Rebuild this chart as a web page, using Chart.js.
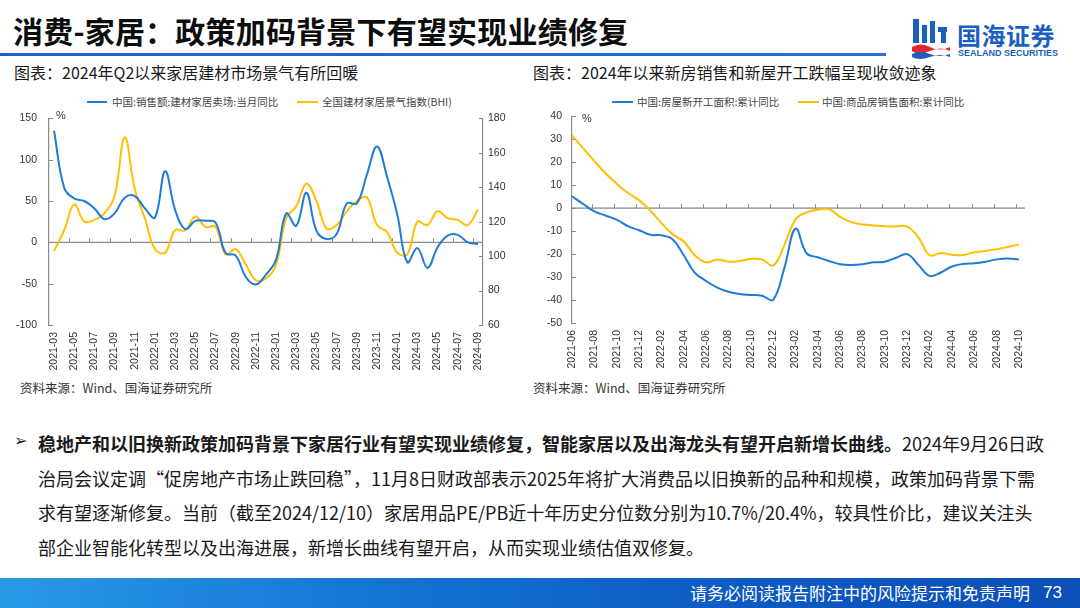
<!DOCTYPE html>
<html>
<head>
<meta charset="utf-8">
<script src="https://cdn.jsdelivr.net/npm/chart.js@4"></script>
<style>
  body { margin: 0; width: 1080px; height: 608px; position: relative; overflow: hidden; background: #fff;
         font-family: 'Noto Sans CJK SC', 'Noto Sans', sans-serif; color: #111; }
  .abs { position: absolute; white-space: nowrap; }
  .title { left: 13px; top: 12px; font-size: 30px; font-weight: 700; line-height: 36px; color: #0d0d0d; letter-spacing: 0.2px; }
  .rule { left: 0; top: 53px; width: 886px; height: 3px; background: linear-gradient(90deg, #1c63c9, #2670d8); }
  .ctitle { font-size: 16px; line-height: 22px; color: #1a1a1a; top: 61px; }
  .legend { font-size: 10.5px; line-height: 14px; color: #444; top: 95px; }
  .legline { position: absolute; height: 2px; top: 101px; }
  .pct { font-family: 'Liberation Sans', Arial, sans-serif; font-size: 11px; color: #333; }
  .source { font-size: 12.5px; line-height: 16px; color: #333; top: 380px; }
  .body { left: 38px; top: 426px; font-size: 18px; line-height: 34.7px; color: #1a1a1a; }
  .arrow { left: 14px; top: 431px; font-family: 'DejaVu Sans', sans-serif; font-size: 16px; font-weight: 700; color: #222; }
  .footer { left: 0; top: 578px; width: 1080px; height: 30px; background: linear-gradient(90deg, #2a9ae6 0%, #1474d4 35%, #0d59c2 70%, #0b4fb7 100%); }
  .foottext { top: 582px; font-size: 17px; line-height: 22px; color: #fff; }
  canvas { position: absolute; }
</style>
</head>
<body>
<div class="abs title">消费-家居：政策加码背景下有望实现业绩修复</div>
<div class="abs rule"></div>

<svg class="abs" style="left:910px; top:17px" width="42" height="42" viewBox="0 0 42 42">
  <rect x="3" y="2" width="6" height="24" fill="#1d5fc0"/>
  <rect x="12" y="8" width="5" height="18" fill="#1d5fc0"/>
  <rect x="20" y="4" width="5" height="22" fill="#1d5fc0"/>
  <rect x="28" y="10" width="9" height="5" fill="#1d5fc0"/>
  <rect x="31" y="10" width="5" height="16" fill="#1d5fc0"/>
  <path d="M2 30 Q11 25 20 30 T40 30 L40 34 Q31 29 20 34 T2 34 Z" fill="#e3262e"/>
  <path d="M2 37 Q11 33 20 37 T40 37 L40 40 Q31 36 20 40 T2 40 Z" fill="#1d5fc0"/>
</svg>
<div class="abs" style="left:957px; top:20px; font-size:24px; font-weight:700; line-height:30px; color:#1d5fc0; letter-spacing:0.5px">国海证券</div>
<div class="abs" style="left:958px; top:48px; font-family:'Liberation Sans Narrow','Liberation Sans',Arial,sans-serif; font-size:9px; font-weight:700; line-height:11px; color:#1d5fc0">SEALAND SECURITIES</div>

<div class="abs ctitle" style="left:14px">图表：2024年Q2以来家居建材市场景气有所回暖</div>
<div class="abs ctitle" style="left:533px">图表：2024年以来新房销售和新屋开工跌幅呈现收敛迹象</div>

<div class="legline" style="left:87px; width:20px; background:#1e7bd6"></div>
<div class="abs legend" style="left:112px">中国:销售额:建材家居卖场:当月同比</div>
<div class="legline" style="left:297px; width:21px; background:#ffc000"></div>
<div class="abs legend" style="left:322px">全国建材家居景气指数(BHI)</div>

<div class="legline" style="left:612px; width:21px; background:#1e7bd6"></div>
<div class="abs legend" style="left:637px">中国:房屋新开工面积:累计同比</div>
<div class="legline" style="left:798px; width:21px; background:#ffc000"></div>
<div class="abs legend" style="left:822px">中国:商品房销售面积:累计同比</div>

<canvas id="chartLeft" width="520" height="275" style="left:10px; top:100px"></canvas>
<canvas id="chartRight" width="500" height="275" style="left:530px; top:100px"></canvas>

<div class="abs pct" style="left:56px; top:109px">%</div>
<div class="abs pct" style="left:582px; top:112px">%</div>

<div class="abs source" style="left:20px">资料来源：Wind、国海证券研究所</div>
<div class="abs source" style="left:533px">资料来源：Wind、国海证券研究所</div>

<div class="abs arrow">➢</div>
<div class="abs body"><b>稳地产和以旧换新政策加码背景下家居行业有望实现业绩修复，智能家居以及出海龙头有望开启新增长曲线。</b>2024年9月26日政<br>治局会议定调“促房地产市场止跌回稳”，11月8日财政部表示2025年将扩大消费品以旧换新的品种和规模，政策加码背景下需<br>求有望逐渐修复。当前（截至2024/12/10）家居用品PE/PB近十年历史分位数分别为10.7%/20.4%，较具性价比，建议关注头<br>部企业智能化转型以及出海进展，新增长曲线有望开启，从而实现业绩估值双修复。</div>

<div class="abs footer"></div>
<div class="abs foottext" style="left:690px">请务必阅读报告附注中的风险提示和免责声明</div>
<div class="abs foottext" style="left:1043px; font-family:'Liberation Sans', Arial, sans-serif">73</div>

<script>
// ---- left chart: building materials & home furnishing ----
const bhiMonths = [
    '2021-03', '2021-04', '2021-05', '2021-06', '2021-07', '2021-08', '2021-09', '2021-10', '2021-11', '2021-12',
    '2022-01', '2022-02', '2022-03', '2022-04', '2022-05', '2022-06', '2022-07', '2022-08', '2022-09', '2022-10',
    '2022-11', '2022-12', '2023-01', '2023-02', '2023-03', '2023-04', '2023-05', '2023-06', '2023-07', '2023-08',
    '2023-09', '2023-10', '2023-11', '2023-12', '2024-01', '2024-02', '2024-03', '2024-04', '2024-05', '2024-06',
    '2024-07', '2024-08', '2024-09'
];
// 中国:销售额:建材家居卖场:当月同比 (%)
const storeSalesYoY = [
    135, 66, 53, 50, 41, 28, 35, 54, 56, 41,
    30, 86, 39, 16, 26, 26, 24, -13, -16, -42,
    -51, -39, -21, 35, 20, 60, 14, 4, 10, 47,
    47, 82, 116, 79, 34, -24, -7, -31, -6, 8,
    9, 0, -2
];
// 全国建材家居景气指数(BHI)
const bhiIndex = [
    103, 115, 130, 120, 121, 125, 135, 169, 139, 122,
    104, 102, 115, 115, 123, 117, 117, 101, 104, 95,
    86, 87, 95, 122, 129, 142, 132, 116, 118, 126,
    132, 134, 118, 114, 102, 101, 120, 118, 126, 122,
    121, 118, 127
];

// ---- right chart: new starts & sales area ----
const houseMonths = [
    '2021-06', '2021-07', '2021-08', '2021-09', '2021-10', '2021-11', '2021-12', '2022-01', '2022-02', '2022-03',
    '2022-04', '2022-05', '2022-06', '2022-07', '2022-08', '2022-09', '2022-10', '2022-11', '2022-12', '2023-01',
    '2023-02', '2023-03', '2023-04', '2023-05', '2023-06', '2023-07', '2023-08', '2023-09', '2023-10', '2023-11',
    '2023-12', '2024-01', '2024-02', '2024-03', '2024-04', '2024-05', '2024-06', '2024-07', '2024-08', '2024-09',
    '2024-10'
];
// 中国:房屋新开工面积:累计同比 (%)
const newStartsYoY = [
    5.2, 1.8, -1.4, -3.2, -5.0, -7.8, -9.6, -11.6, -11.8, -13.5,
    -20.5, -28.2, -31.7, -34.6, -36.4, -37.4, -37.8, -38.1, -39.9, -26.1,
    -8.9, -19.7, -21.4, -23.0, -24.4, -24.7, -24.4, -23.6, -23.3, -21.6,
    -20.0, -24.7, -29.5, -28.0, -25.4, -24.3, -24.0, -23.3, -22.3, -21.9,
    -22.3
];
// 中国:商品房销售面积:累计同比 (%)
const salesAreaYoY = [
    31.7, 26.0, 20.5, 15.2, 10.6, 6.6, 3.5, -1.0, -6.5, -11.3,
    -14.5, -20.5, -23.6, -22.3, -23.3, -23.0, -22.1, -22.3, -25.0, -16.2,
    -4.9, -1.8, -0.7, -0.4, -3.8, -6.1, -7.1, -7.5, -7.9, -8.0,
    -8.0, -12.7, -20.5, -19.5, -20.3, -20.4, -19.2, -18.6, -17.9, -16.9,
    -15.8
];

const BLUE = '#1e7bd6';
const GOLD = '#ffc000';
const AXIS = '#8a8a8a';
const TICK_FONT = { family: "'Liberation Sans', Arial, sans-serif", size: 10.5 };

Chart.defaults.font.family = "'Liberation Sans', Arial, sans-serif";
Chart.defaults.color = '#333';

// zero line with small upward ticks, and inward tick marks on the y axes
const axisMarks = {
    id: 'axisMarks',
    beforeDatasetsDraw(chart, args, opts) {
        const { ctx, chartArea: a, scales } = chart;
        const zero = scales.y.getPixelForValue(0);
        ctx.save();
        ctx.strokeStyle = AXIS;
        ctx.lineWidth = 1.2;
        ctx.beginPath();
        ctx.moveTo(a.left, zero);
        ctx.lineTo(a.right + (opts.extend || 0), zero);
        ctx.stroke();
        ctx.lineWidth = 1;
        ctx.beginPath();
        opts.xTicks.forEach(v => {
            const px = Math.round(scales.x.getPixelForValue(v)) + 0.5;
            ctx.moveTo(px, zero);
            ctx.lineTo(px, zero - 4);
        });
        opts.yAxes.forEach(id => {
            const s = scales[id];
            const x0 = s.position === 'left' ? a.left : a.right;
            const dir = s.position === 'left' ? 1 : -1;
            s.ticks.forEach(t => {
                const py = Math.round(s.getPixelForValue(t.value)) + 0.5;
                ctx.moveTo(x0, py);
                ctx.lineTo(x0 + dir * 4, py);
            });
        });
        ctx.stroke();
        ctx.restore();
    }
};

function yAxis(position, min, max, step, pad, width) {
    return {
        position: position,
        min: min,
        max: max,
        ticks: { stepSize: step, padding: pad, font: TICK_FONT, color: '#333' },
        grid: { display: false, drawTicks: false },
        border: { color: AXIS, width: 1.2 },
        afterFit: s => { s.width = width; }
    };
}

function xAxis(labels, offset, height) {
    return {
        offset: offset,
        grid: { display: false, drawTicks: false },
        border: { display: false },
        ticks: {
            autoSkip: false,
            minRotation: 90,
            maxRotation: 90,
            padding: 7,
            font: TICK_FONT,
            color: '#333',
            callback: (v, i) => (i % 2 === 0 ? labels[i] : '')
        },
        afterFit: s => {
            s.height = height;
            s.paddingLeft = 0;
            s.paddingRight = 0;
        }
    };
}

// tick marks sit between months on the left chart
const leftTickPos = [];
for (let k = 1; k < bhiMonths.length - 1; k += 2) leftTickPos.push(k + 0.5);
const rightTickPos = [];
for (let k = 2; k < houseMonths.length; k += 2) rightTickPos.push(k - 0.25);

new Chart(document.getElementById('chartLeft'), {
    type: 'line',
    data: {
        labels: bhiMonths,
        datasets: [
            { label: '中国:销售额:建材家居卖场:当月同比', data: storeSalesYoY, borderColor: BLUE, yAxisID: 'y' },
            { label: '全国建材家居景气指数(BHI)', data: bhiIndex, borderColor: GOLD, yAxisID: 'y1' }
        ]
    },
    options: {
        responsive: false,
        animation: false,
        layout: { padding: { top: 13, left: 0, right: 0, bottom: 0 } },
        elements: { point: { radius: 0 }, line: { borderWidth: 2, tension: 0.4 } },
        plugins: {
            legend: { display: false },
            tooltip: { enabled: false },
            axisMarks: { xTicks: leftTickPos, yAxes: ['y', 'y1'], extend: 0 }
        },
        scales: {
            x: xAxis(bhiMonths, true, 50),
            y: yAxis('left', -100, 150, 50, 12, 39),
            y1: yAxis('right', 60, 180, 20, 5, 47)
        }
    },
    plugins: [axisMarks]
});

new Chart(document.getElementById('chartRight'), {
    type: 'line',
    data: {
        labels: houseMonths,
        datasets: [
            { label: '中国:房屋新开工面积:累计同比', data: newStartsYoY, borderColor: BLUE },
            { label: '中国:商品房销售面积:累计同比', data: salesAreaYoY, borderColor: GOLD }
        ]
    },
    options: {
        responsive: false,
        animation: false,
        layout: { padding: { top: 11, left: 0, right: 11, bottom: 0 } },
        elements: { point: { radius: 0 }, line: { borderWidth: 2, tension: 0.4 } },
        plugins: {
            legend: { display: false },
            tooltip: { enabled: false },
            axisMarks: { xTicks: rightTickPos, yAxes: ['y'], extend: 6 }
        },
        scales: {
            x: xAxis(houseMonths, false, 52),
            y: yAxis('left', -50, 40, 10, 10, 42)
        }
    },
    plugins: [axisMarks]
});
</script>
</body>
</html>
